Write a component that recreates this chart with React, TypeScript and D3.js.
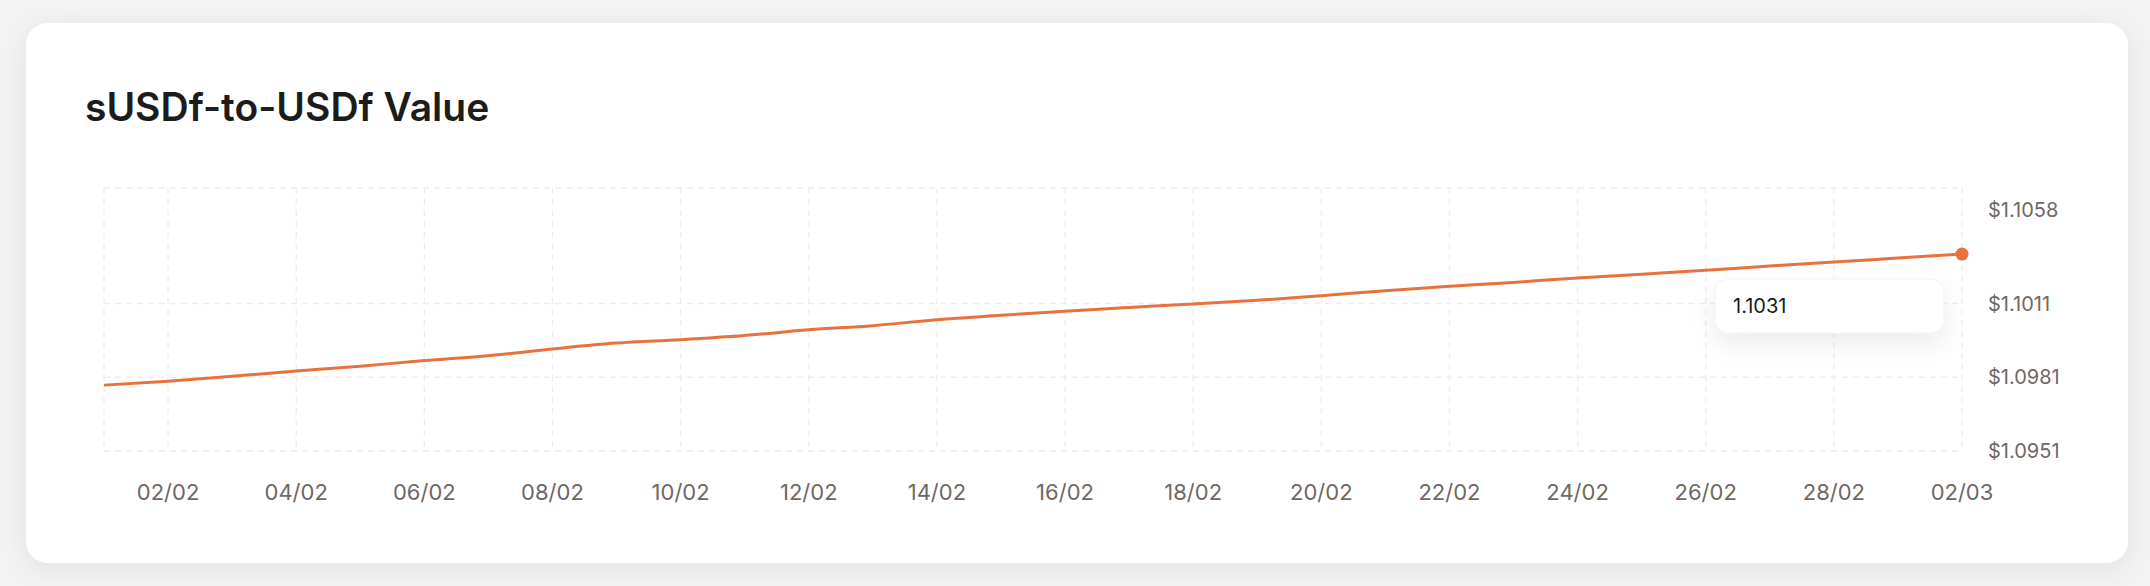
import React from "react";
import * as d3 from "d3";

const dates: string[] = [
  "2025-02-01","2025-02-02","2025-02-03","2025-02-04","2025-02-05","2025-02-06",
  "2025-02-07","2025-02-08","2025-02-09","2025-02-10","2025-02-11","2025-02-12",
  "2025-02-13","2025-02-14","2025-02-15","2025-02-16","2025-02-17","2025-02-18",
  "2025-02-19","2025-02-20","2025-02-21","2025-02-22","2025-02-23","2025-02-24",
  "2025-02-25","2025-02-26","2025-02-27","2025-02-28","2025-03-01","2025-03-02",
];
const values: number[] = [
  1.09778, 1.09794, 1.09814, 1.09835, 1.09855, 1.09878,
  1.09898, 1.09925, 1.09949, 1.09963, 1.0998, 1.10003,
  1.1002, 1.10044, 1.10062, 1.10079, 1.10094, 1.10108,
  1.10123, 1.10142, 1.10162, 1.1018, 1.10196, 1.10214,
  1.10229, 1.10245, 1.10263, 1.10279, 1.10295, 1.10311,
];
const yTicks: number[] = [1.0951, 1.0981, 1.1011, 1.1058];
const xTickDates: string[] = [
  "2025-02-02","2025-02-04","2025-02-06","2025-02-08","2025-02-10","2025-02-12",
  "2025-02-14","2025-02-16","2025-02-18","2025-02-20","2025-02-22","2025-02-24",
  "2025-02-26","2025-02-28","2025-03-02",
];
const title = "sUSDf-to-USDf Value";
const tooltipValue = "1.1031";

const W = 2150;
const H = 586;
const plot = { left: 104, right: 1962, top: 188, bottom: 451 };
const ORANGE = "#E9713C";
const GRID = "#ededed";
const TICK = "#6f6864";
const FONT = "Inter, 'Noto Sans', sans-serif";

const parse = (s: string) => new Date(s + "T00:00:00Z");
const fmt = d3.utcFormat("%d/%m");

export default function App() {
  const data = dates.map((d, i) => ({ date: parse(d), value: values[i] }));
  const x = d3
    .scaleUtc()
    .domain([parse(dates[0]), parse(dates[dates.length - 1])])
    .range([plot.left, plot.right]);
  const y = d3
    .scaleLinear()
    .domain([yTicks[0], yTicks[yTicks.length - 1]])
    .range([plot.bottom, plot.top]);

  const line = d3
    .line<{ date: Date; value: number }>()
    .x((d) => x(d.date))
    .y((d) => y(d.value))
    .curve(d3.curveMonotoneX);

  const xTicks = xTickDates.map(parse);
  const gridX = [x.domain()[0], ...xTicks];
  const last = data[data.length - 1];

  return (
    <div style={{ position: "absolute", left: 0, top: 0, width: W, height: H, background: "#f3f3f3" }}>
      <svg width={W} height={H} style={{ display: "block" }}>
        <defs>
          <filter id="cardShadow" x="-5%" y="-20%" width="110%" height="140%">
            <feDropShadow dx="0" dy="6" stdDeviation="14" floodColor="#000" floodOpacity="0.07" />
          </filter>
          <filter id="tipShadow" x="-30%" y="-60%" width="160%" height="260%">
            <feDropShadow dx="0" dy="10" stdDeviation="12" floodColor="#000" floodOpacity="0.08" />
          </filter>
        </defs>
        <rect x={26} y={23} width={2102} height={540} rx={22} fill="#ffffff" filter="url(#cardShadow)" />
        <text x={85} y={121} fontFamily={FONT} fontSize={39} fontWeight={600} fill="#1c1c1c">
          {title}
        </text>

        {/* grid */}
        <g stroke={GRID} strokeWidth={1.3} strokeDasharray="6 5" fill="none">
          {yTicks.map((t) => (
            <line key={"h" + t} x1={plot.left} x2={plot.right} y1={y(t)} y2={y(t)} />
          ))}
          {gridX.map((d, i) => (
            <line key={"v" + i} x1={x(d)} x2={x(d)} y1={plot.top} y2={plot.bottom} />
          ))}
        </g>

        {/* y ticks */}
        {yTicks.map((t, i) => (
          <text
            key={"yt" + t}
            x={plot.right + 26}
            y={y(t)}
            dy={i === yTicks.length - 1 ? "1.45em" : "0.35em"}
            fontFamily={FONT}
            fontSize={20}
            fill={TICK}
          >
            {"$" + t.toFixed(4)}
          </text>
        ))}

        {/* x ticks */}
        {xTicks.map((d, i) => (
          <text
            key={"xt" + i}
            x={x(d)}
            y={plot.bottom + 41}
            dy="0.35em"
            textAnchor="middle"
            fontFamily={FONT}
            fontSize={22}
            fill={TICK}
          >
            {fmt(d)}
          </text>
        ))}

        <path d={line(data) || ""} fill="none" stroke={ORANGE} strokeWidth={3} strokeLinejoin="round" />
        <circle cx={x(last.date)} cy={y(last.value)} r={6.5} fill={ORANGE} />

        {/* tooltip */}
        <g transform={`translate(${x(last.date) - 247},${y(last.value) + 25})`}>
          <rect width={229} height={54} rx={13} fill="#ffffff" stroke="#f2f2f2" filter="url(#tipShadow)" />
          <text x={18} y={27} dy="0.35em" fontFamily={FONT} fontSize={20} fill="#1a1a1a">
            {tooltipValue}
          </text>
        </g>
      </svg>
    </div>
  );
}
